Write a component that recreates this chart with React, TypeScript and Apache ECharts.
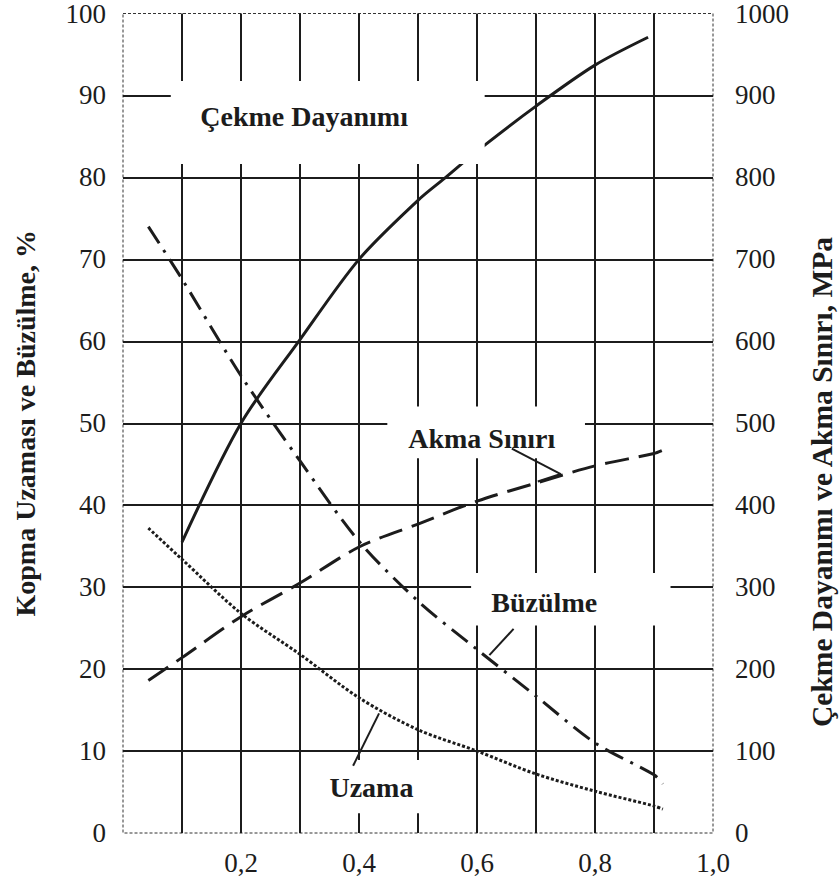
import React, { useEffect, useRef } from "react";
import * as echarts from "echarts";

// ---- data ----
const cekmeX = [0.1, 0.2, 0.3, 0.4, 0.5, 0.547, 0.6, 0.7, 0.8, 0.89];
const cekmeMPa = [355, 500, 602, 700, 772, 800, 832, 887, 937, 971];

const akmaX = [0.043, 0.1, 0.2, 0.3, 0.4, 0.5, 0.6, 0.7, 0.8, 0.9, 0.915];
const akmaMPa = [186, 214, 264, 305, 349, 377, 405, 427, 448, 463, 467];

const buzulmeX = [0.043, 0.1, 0.2, 0.3, 0.4, 0.5, 0.6, 0.7, 0.8, 0.9, 0.915];
const buzulmePct = [74, 67.6, 55.8, 45.4, 35.6, 28.3, 22.4, 16.7, 11, 7.1, 6];

const uzamaX = [0.043, 0.1, 0.2, 0.3, 0.4, 0.5, 0.6, 0.7, 0.8, 0.9, 0.915];
const uzamaPct = [37.2, 33.4, 26.8, 21.8, 16.5, 12.6, 10, 7.2, 5.1, 3.3, 2.9];

const xLabelTenths = [2, 4, 6, 8, 10];

const leftAxisName = "Kopma Uzaması ve Büzülme, %";
const rightAxisName = "Çekme Dayanımı ve Akma Sınırı, MPa";

// curve labels (x, left-axis %)
const curveLabels = [
  { name: "Çekme Dayanımı", at: [0.307, 87.4] },
  { name: "Akma Sınırı", at: [0.608, 48.1] },
  { name: "Büzülme", at: [0.714, 28.1] },
  { name: "Uzama", at: [0.421, 5.6] },
];
// leader lines in left-axis units
const pctLeaders = [
  [[0.39, 8.2], [0.434, 14.6]],
  [[0.662, 24.9], [0.621, 21.7]],
];
// leader lines in MPa units
const mpaLeaders = [
  [[0.659, 469], [0.742, 438]],
  [[0.703, 429], [0.742, 438]],
];
// white gaps around the labels: [x0, x1, yTop, yBottom] in x / left %
const gaps = [
  [0.081, 0.613, 91.7, 81.6],
  [0.448, 0.783, 52, 45.7],
  [0.59, 0.928, 31.7, 25.3],
  [0.337, 0.518, 8.9, 2.4],
];

const GL = 123, GT = 13, GW = 590, GH = 820;
const FONT = "Liberation Serif";
const INK = "#1c1c1c";

const pair = (xs: number[], ys: number[]) => xs.map((x, i) => [x, ys[i]]);

export default function App() {
  const ref = useRef<HTMLDivElement>(null);
  useEffect(() => {
    if (!ref.current) return;
    const chart = echarts.init(ref.current, null, { renderer: "svg" });
    const px = (x: number) => GL + x * GW;
    const py = (y: number) => GT + GH * (1 - y / 100);

    const lineBase = { type: "line", smooth: 0.3, showSymbol: false, symbol: "none", silent: true, z: 3 };

    chart.setOption({
      animation: false,
      backgroundColor: "#ffffff",
      textStyle: { fontFamily: FONT },
      grid: {
        left: GL, top: GT, width: GW, height: GH,
        show: true, borderColor: "#333", borderWidth: 1, borderType: [3, 2],
      },
      xAxis: {
        type: "value", min: 0, max: 1, interval: 0.1,
        axisLine: { show: false }, axisTick: { show: false },
        splitLine: { show: true, showMinLine: false, showMaxLine: false, lineStyle: { color: INK, width: 2 } },
        axisLabel: {
          margin: 16, fontSize: 27, fontFamily: FONT, color: INK,
          formatter: (v: number) => {
            const t = Math.round(v * 10);
            return xLabelTenths.includes(t) ? (t / 10).toFixed(1).replace(".", ",") : "";
          },
        },
      },
      yAxis: [
        {
          type: "value", min: 0, max: 100, interval: 10, position: "left",
          name: leftAxisName, nameLocation: "middle", nameRotate: 90, nameGap: 84,
          nameTextStyle: { fontSize: 28, fontWeight: "bold", fontFamily: FONT, color: INK },
          axisLine: { show: false }, axisTick: { show: false },
          axisLabel: { margin: 17, fontSize: 27, fontFamily: FONT, color: INK, formatter: (v: number) => String(v) },
          splitLine: { show: true, showMinLine: false, showMaxLine: false, lineStyle: { color: INK, width: 2 } },
        },
        {
          type: "value", min: 0, max: 1000, interval: 100, position: "right",
          axisLine: { show: false }, axisTick: { show: false },
          axisLabel: { margin: 22, fontSize: 27, fontFamily: FONT, color: INK, formatter: (v: number) => String(v) },
          splitLine: { show: false },
        },
      ],
      graphic: [
        ...gaps.map(([x0, x1, y0, y1]) => ({
          type: "rect", z: 4, silent: true,
          shape: { x: px(x0), y: py(y0), width: px(x1) - px(x0), height: py(y1) - py(y0) },
          style: { fill: "#ffffff" },
        })),
        {
          type: "text", z: 6, silent: true,
          x: 822, y: 482, rotation: Math.PI / 2,
          style: {
            text: rightAxisName, fill: INK,
            font: `bold 29.5px ${FONT}`,
            align: "center", verticalAlign: "middle",
          },
        },
      ],
      series: [
        {
          ...lineBase, name: "Çekme Dayanımı", yAxisIndex: 1,
          data: pair(cekmeX, cekmeMPa),
          lineStyle: { color: INK, width: 3, type: "solid" },
        },
        {
          ...lineBase, name: "Akma Sınırı", yAxisIndex: 1,
          data: pair(akmaX, akmaMPa),
          lineStyle: { color: INK, width: 3, type: [24, 10], cap: "butt" },
          markLine: {
            silent: true, z: 6, symbol: ["none", "none"], label: { show: false },
            lineStyle: { color: INK, width: 2, type: "solid" },
            data: mpaLeaders.map(([a, b]) => [{ coord: a }, { coord: b }]),
          },
        },
        {
          ...lineBase, name: "Büzülme", yAxisIndex: 0,
          data: pair(buzulmeX, buzulmePct),
          lineStyle: { color: INK, width: 3, type: [20, 8, 3, 8], cap: "butt" },
        },
        {
          ...lineBase, name: "Uzama", yAxisIndex: 0,
          data: pair(uzamaX, uzamaPct),
          lineStyle: { color: INK, width: 3, type: [3, 2], cap: "butt" },
          markLine: {
            silent: true, z: 6, symbol: ["none", "none"], label: { show: false },
            lineStyle: { color: INK, width: 2, type: "solid" },
            data: pctLeaders.map(([a, b]) => [{ coord: a }, { coord: b }]),
          },
          markPoint: {
            silent: true, z: 6, symbol: "circle", symbolSize: 0.1,
            itemStyle: { color: "transparent" },
            label: {
              show: true, position: "inside", formatter: "{b}",
              fontSize: 28, fontWeight: "bold", fontFamily: FONT, color: INK,
            },
            data: curveLabels.map((l) => ({ name: l.name, coord: l.at })),
          },
        },
      ],
    });
    return () => chart.dispose();
  }, []);
  return (
    <div
      ref={ref}
      style={{ position: "fixed", left: 0, top: 0, width: 839, height: 884, background: "#fff" }}
    />
  );
}
